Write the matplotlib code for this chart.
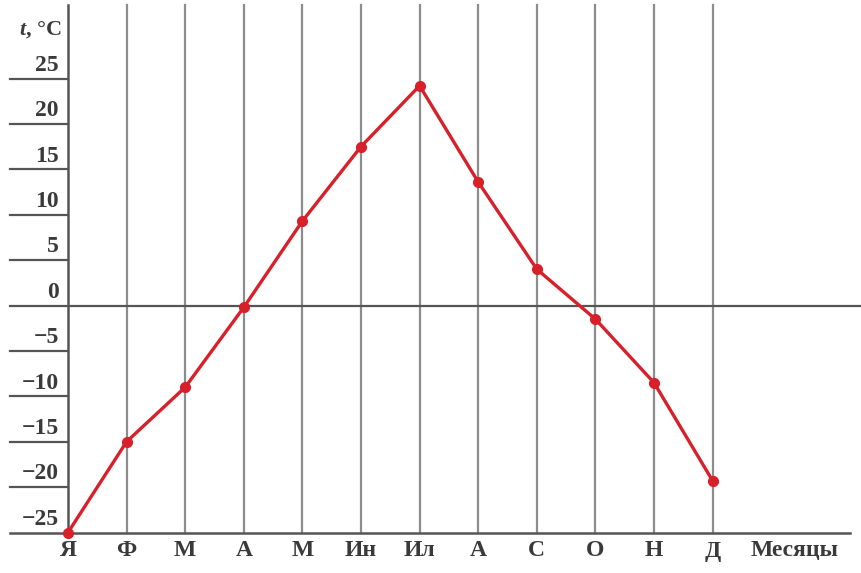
import matplotlib
matplotlib.use("Agg")
import matplotlib.pyplot as plt

plt.rcParams["mathtext.fontset"] = "custom"
plt.rcParams["mathtext.it"] = "Liberation Serif:italic:bold"
plt.rcParams["mathtext.rm"] = "Liberation Serif:bold"

months = ["Я", "Ф", "М", "А", "М", "Ин", "Ил", "А", "С", "О", "Н", "Д"]
temps = [-25, -15, -9, -0.2, 9.3, 17.5, 24.2, 13.6, 4.0, -1.5, -8.5, -19.3]
yticks = [25, 20, 15, 10, 5, 0, -5, -10, -15, -20, -25]
ylabel = "$t$, °C"
xlabel = "Месяцы"

W, H = 862, 573
fig = plt.figure(figsize=(W / 100, H / 100), dpi=100)
ax = fig.add_axes([0, 0, 1, 1])
ax.set_axis_off()

# pixel mapping
x0px, dxpx = 68.0, 58.6
y0px, dypx = 305.5, 9.08
ax.set_xlim(-x0px / dxpx, (W - x0px) / dxpx)
ax.set_ylim(-(H - y0px) / dypx, y0px / dypx)

def px_x(p):
    return (p - x0px) / dxpx

def px_y(p):
    return (y0px - p) / dypx

font = dict(family=["Liberation Serif", "DejaVu Serif"], weight="bold", color="#3a3a3a")
ytop = px_y(5)
grid_c = "#8c8c8c"
xs = list(range(len(months)))

# vertical grid lines
for i in xs[1:]:
    ax.plot([i, i], [-25, ytop], color=grid_c, lw=1.6, zorder=1)
# y axis
ax.plot([0, 0], [-25, ytop], color="#555555", lw=1.8, zorder=1)

# tick lines and labels
xl = px_x(10)
for v in yticks:
    if v == 0:
        ax.plot([xl, px_x(W)], [0, 0], color="#555555", lw=1.6, zorder=1)
    elif v == -25:
        ax.plot([xl, px_x(850)], [v, v], color="#555555", lw=1.8, zorder=1)
    else:
        ax.plot([xl, 0], [v, v], color="#555555", lw=1.6, zorder=1)
    lab = str(v).replace("-", "\u2212")
    ax.text(px_x(59), v + 0.3, lab, ha="right", va="bottom", fontsize=17, **font)

ax.text(px_x(62), px_y(30), ylabel, ha="right", va="center", fontsize=16, **font)

for i, m in enumerate(months):
    ax.text(i, px_y(551), m, ha="center", va="center", fontsize=17, **font)
ax.text(px_x(795), px_y(551), xlabel, ha="center", va="center", fontsize=17, **font)

ax.plot(xs, temps, color="#d8202a", lw=2.4, marker="o", ms=7, zorder=3)

fig.savefig("out.png", dpi=100)
